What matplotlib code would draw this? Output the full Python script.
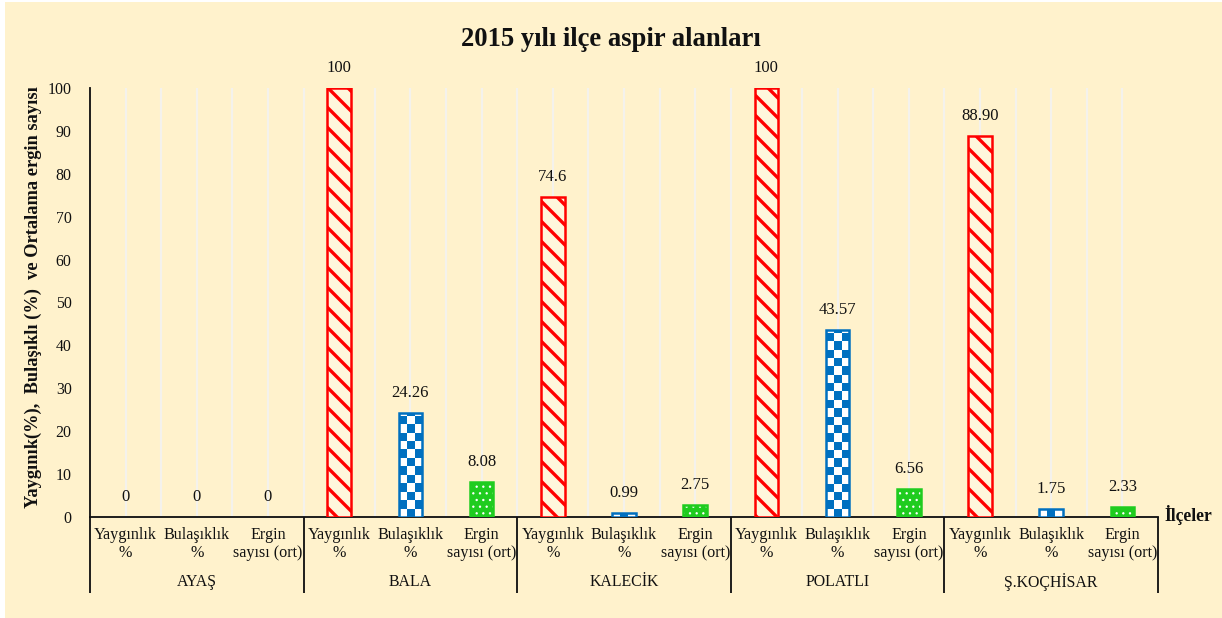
import numpy as np
import matplotlib
matplotlib.use('Agg')
import matplotlib.pyplot as plt
from matplotlib.patches import Rectangle
from matplotlib.colors import ListedColormap
import matplotlib.transforms as mtransforms

# ---------------- data ----------------
groups = ["AYAŞ", "BALA", "KALECİK", "POLATLI", "Ş.KOÇHİSAR"]
metrics = ["Yaygınlık\n%", "Bulaşıklık\n%", "Ergin\nsayısı (ort)"]
yayginlik = [0, 100, 74.6, 100, 88.90]
bulasiklik = [0, 24.26, 0.99, 43.57, 1.75]
ergin = [0, 8.08, 2.75, 6.56, 2.33]
yayginlik_lbl = ["0", "100", "74.6", "100", "88.90"]
bulasiklik_lbl = ["0", "24.26", "0.99", "43.57", "1.75"]
ergin_lbl = ["0", "8.08", "2.75", "6.56", "2.33"]
yticks = list(range(0, 101, 10))
title = "2015 yılı ilçe aspir alanları"
ylabel = "Yaygınık(%),  Bulaşıklı (%)  ve Ortalama ergin sayısı"
xlabel = "İlçeler"

# ---------------- style ----------------
DPI = 120
W, H = 1222, 618
BG = '#FFF2CC'
RED = '#FF0000'
BLUE = '#0070C0'
GREEN = '#1FCC1F'
SERIF = 'Liberation Serif'
BAR_W = 0.33

plt.rcParams['font.family'] = [SERIF, 'DejaVu Serif']

fig = plt.figure(figsize=(W / DPI, H / DPI), dpi=DPI, facecolor='white')
fig.add_artist(Rectangle((5 / W, 0), 1, 616 / H, transform=fig.transFigure,
                         facecolor=BG, edgecolor='none', zorder=-10))

ax = fig.add_axes([90 / W, 101 / H, 1068 / W, 429 / H])
ax.set_facecolor('none')

n, m = len(groups), len(metrics)
xs = [np.arange(n) * m + j for j in range(m)]


def set_hlw(patches, lw):
    for p in patches:
        if hasattr(p, 'set_hatch_linewidth'):
            p.set_hatch_linewidth(lw)


# red striped bars
with plt.rc_context({'hatch.linewidth': 2.0}):
    red_bars = ax.bar(xs[0], yayginlik, width=BAR_W, facecolor='#FFF6DC',
                      edgecolor=RED, hatch='\\\\', linewidth=1.5, zorder=3)
set_hlw(red_bars, 2.0)

# blue checker bars
blue_bars = ax.bar(xs[1], bulasiklik, width=BAR_W, facecolor='white',
                   edgecolor='none', linewidth=0, zorder=3)
sq = 1.95  # checker square height in data units
cmap = ListedColormap(['#FFFFFF', BLUE])
for p in blue_bars:
    x0, w, h = p.get_x(), p.get_width(), p.get_height()
    if h <= 0:
        continue
    nrows = int(np.ceil(h / sq))
    arr = np.add.outer(np.arange(nrows), np.arange(3)) % 2
    im = ax.imshow(arr, cmap=cmap, extent=(x0, x0 + w, 0, nrows * sq),
                   origin='lower', aspect='auto', interpolation='nearest',
                   zorder=3.5, vmin=0, vmax=1)
    im.set_clip_path(p)
blue_edge = ax.bar(xs[1], bulasiklik, width=BAR_W, facecolor='none',
                   edgecolor=BLUE, linewidth=1.5, zorder=4)

# green dotted bars
with plt.rc_context({'hatch.linewidth': 0.6}):
    green_bars = ax.bar(xs[2], ergin, width=BAR_W, facecolor=GREEN,
                        edgecolor='white', hatch='...', linewidth=0, zorder=3)
set_hlw(green_bars, 0.6)
green_edge = ax.bar(xs[2], ergin, width=BAR_W, facecolor='none',
                    edgecolor=GREEN, linewidth=1.5, zorder=4)

for bars in (red_bars, blue_edge, green_edge):
    for p in bars:
        if p.get_height() == 0:
            p.set_linewidth(0)

# value labels
for j, (vals, lbls) in enumerate([(yayginlik, yayginlik_lbl),
                                   (bulasiklik, bulasiklik_lbl),
                                   (ergin, ergin_lbl)]):
    for x, v, t in zip(xs[j], vals, lbls):
        ax.annotate(t, (x, v), xytext=(0, 12), textcoords='offset points',
                    ha='center', va='center', fontsize=10, color='#111111')

# axes limits / ticks
ax.set_xlim(-0.5, n * m - 0.5)
ax.set_ylim(0, 100)
ax.set_yticks(yticks)
ax.tick_params(axis='y', length=0, pad=11, labelsize=9.5, labelcolor='#111111')

ax.set_xticks(np.arange(n * m))
ax.set_xticks(np.arange(n * m - 1) + 0.5, minor=True)
ax.set_xticklabels(metrics * n, fontsize=9.7, linespacing=1.15, color='#111111')
ax.tick_params(axis='x', which='both', length=0, pad=6)
ax.set_axisbelow(True)
ax.grid(True, which='both', axis='x', color='#F4F2EC', linewidth=1.3)
ax.grid(False, axis='y')

for s in ('top', 'right'):
    ax.spines[s].set_visible(False)
for s in ('left', 'bottom'):
    ax.spines[s].set_color('#111111')
    ax.spines[s].set_linewidth(1.1)

blend = mtransforms.blended_transform_factory(ax.transData, ax.transAxes)
for g in range(n):
    ax.text(g * m + (m - 1) / 2, -0.152, groups[g], transform=blend,
            ha='center', va='center', fontsize=9.5, color='#111111')
for b in range(n + 1):
    xb = b * m - 0.5
    ax.plot([xb, xb], [0, -0.177], transform=blend, color='#111111',
            lw=1.1, clip_on=False, solid_capstyle='butt')

ax.text(1.006, 0.005, xlabel, transform=ax.transAxes, ha='left', va='center',
        fontsize=10.5, fontweight='bold', color='#111111')

fig.text(33 / W, 1 - 297 / H, ylabel, rotation=90, ha='center', va='center',
         fontsize=11, fontweight='bold', color='#111111')
fig.text(0.5, 1 - 40 / H, title, ha='center', va='center', fontsize=16,
         fontweight='bold', color='#111111')

fig.savefig('out.png', dpi=DPI, facecolor=fig.get_facecolor())
